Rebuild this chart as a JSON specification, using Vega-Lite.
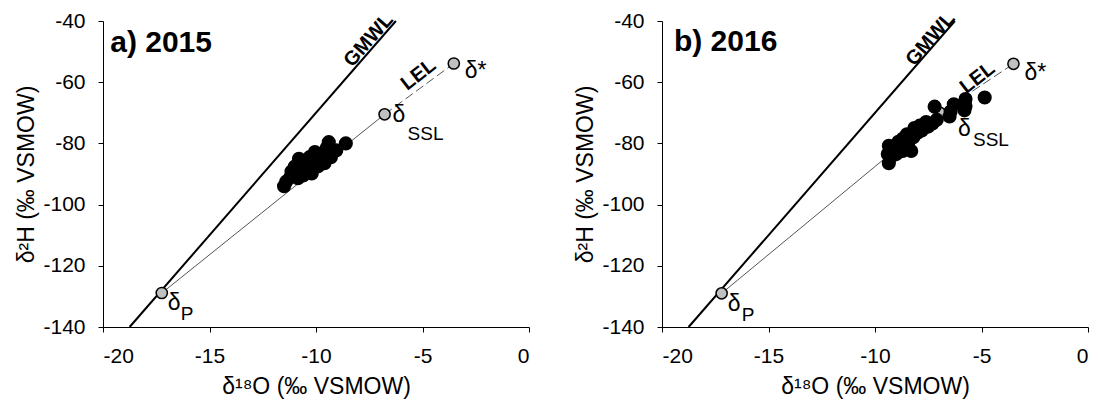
{
  "$schema": "https://vega.github.io/schema/vega-lite/v6.json",
  "background": "white",
  "padding": {"left": 15, "top": 8, "right": 5, "bottom": 2},
  "spacing": 133,
  "bounds": "flush",
  "config": {
    "font": "Liberation Sans",
    "view": {"stroke": null},
    "axis": {
      "grid": false,
      "domainColor": "black",
      "domainWidth": 1,
      "tickColor": "black",
      "tickWidth": 1,
      "tickSize": 5,
      "labelColor": "black",
      "labelFont": "Liberation Sans",
      "labelFontSize": 21,
      "titleColor": "black",
      "titleFont": "Liberation Sans",
      "titleFontSize": 23,
      "titleFontWeight": "normal"
    },
    "text": {"font": "Liberation Sans", "color": "black"}
  },
  "datasets": {
    "lines": [
      {"panel": "a", "series": "GMWL", "d18O": -18.75, "d2H": -140},
      {"panel": "a", "series": "GMWL", "d18O": -6.25, "d2H": -40},
      {"panel": "a", "series": "LEL", "d18O": -17.24, "d2H": -128.9},
      {"panel": "a", "series": "LEL", "d18O": -6.78, "d2H": -70.5},
      {"panel": "a", "series": "LELext", "d18O": -6.78, "d2H": -70.5},
      {"panel": "a", "series": "LELext", "d18O": -3.53, "d2H": -53.9},
      {"panel": "b", "series": "GMWL", "d18O": -18.75, "d2H": -140},
      {"panel": "b", "series": "GMWL", "d18O": -6.25, "d2H": -40},
      {"panel": "b", "series": "LEL", "d18O": -17.2, "d2H": -129},
      {"panel": "b", "series": "LEL", "d18O": -6.95, "d2H": -70},
      {"panel": "b", "series": "LELext", "d18O": -6.95, "d2H": -70},
      {"panel": "b", "series": "LELext", "d18O": -3.5, "d2H": -54}
    ],
    "members": [
      {"panel": "a", "name": "P", "d18O": -17.24, "d2H": -128.9},
      {"panel": "a", "name": "SSL", "d18O": -6.78, "d2H": -70.5},
      {"panel": "a", "name": "star", "d18O": -3.53, "d2H": -53.9},
      {"panel": "b", "name": "P", "d18O": -17.2, "d2H": -129},
      {"panel": "b", "name": "SSL", "d18O": -6.95, "d2H": -70},
      {"panel": "b", "name": "star", "d18O": -3.5, "d2H": -54}
    ],
    "samples": [
      {"panel": "a", "d18O": -8.6, "d2H": -80},
      {"panel": "a", "d18O": -9.4, "d2H": -79.6},
      {"panel": "a", "d18O": -9.05, "d2H": -82.3},
      {"panel": "a", "d18O": -10.8, "d2H": -85},
      {"panel": "a", "d18O": -9.6, "d2H": -86.5},
      {"panel": "a", "d18O": -10.05, "d2H": -82.8},
      {"panel": "a", "d18O": -10.4, "d2H": -86},
      {"panel": "a", "d18O": -11.15, "d2H": -89.2},
      {"panel": "a", "d18O": -10.2, "d2H": -89.8},
      {"panel": "a", "d18O": -11.4, "d2H": -92.5},
      {"panel": "a", "d18O": -11.5, "d2H": -94},
      {"panel": "a", "d18O": -10.85, "d2H": -91.4},
      {"panel": "a", "d18O": -9.8, "d2H": -84},
      {"panel": "a", "d18O": -10.7, "d2H": -89.2},
      {"panel": "a", "d18O": -11.0, "d2H": -87.6},
      {"panel": "a", "d18O": -9.3, "d2H": -84.5},
      {"panel": "a", "d18O": -10.5, "d2H": -87.5},
      {"panel": "a", "d18O": -10.0, "d2H": -85.5},
      {"panel": "a", "d18O": -9.5, "d2H": -81.5},
      {"panel": "a", "d18O": -11.2, "d2H": -91},
      {"panel": "a", "d18O": -10.6, "d2H": -90.5},
      {"panel": "a", "d18O": -10.3, "d2H": -84.5},
      {"panel": "a", "d18O": -9.9, "d2H": -87.5},
      {"panel": "b", "d18O": -4.85, "d2H": -65},
      {"panel": "b", "d18O": -5.75, "d2H": -65.5},
      {"panel": "b", "d18O": -5.75, "d2H": -67.8},
      {"panel": "b", "d18O": -5.8, "d2H": -69.2},
      {"panel": "b", "d18O": -6.3, "d2H": -67.2},
      {"panel": "b", "d18O": -6.45, "d2H": -69.6},
      {"panel": "b", "d18O": -6.5, "d2H": -71.2},
      {"panel": "b", "d18O": -7.2, "d2H": -68},
      {"panel": "b", "d18O": -7.1, "d2H": -72.3},
      {"panel": "b", "d18O": -7.5, "d2H": -74.5},
      {"panel": "b", "d18O": -7.9, "d2H": -74.2},
      {"panel": "b", "d18O": -8.15, "d2H": -75},
      {"panel": "b", "d18O": -8.2, "d2H": -78},
      {"panel": "b", "d18O": -8.5, "d2H": -77},
      {"panel": "b", "d18O": -8.45, "d2H": -80.5},
      {"panel": "b", "d18O": -8.9, "d2H": -79.5},
      {"panel": "b", "d18O": -9.05, "d2H": -81.5},
      {"panel": "b", "d18O": -9.35, "d2H": -80.8},
      {"panel": "b", "d18O": -9.4, "d2H": -83.5},
      {"panel": "b", "d18O": -8.7, "d2H": -82.5},
      {"panel": "b", "d18O": -8.3, "d2H": -82.5},
      {"panel": "b", "d18O": -9.35, "d2H": -86.5},
      {"panel": "b", "d18O": -9.2, "d2H": -84},
      {"panel": "b", "d18O": -8.0, "d2H": -76.5},
      {"panel": "b", "d18O": -7.6, "d2H": -73},
      {"panel": "b", "d18O": -8.7, "d2H": -78.5},
      {"panel": "b", "d18O": -9.0, "d2H": -83.5},
      {"panel": "b", "d18O": -8.6, "d2H": -80},
      {"panel": "b", "d18O": -7.8, "d2H": -75.8},
      {"panel": "b", "d18O": -7.3, "d2H": -73.5},
      {"panel": "b", "d18O": -8.4, "d2H": -79},
      {"panel": "b", "d18O": -9.2, "d2H": -82}
    ]
  },
  "hconcat": [
    {
      "width": 426,
      "height": 306,
      "layer": [
        {
          "data": {"name": "lines"},
          "transform": [{"filter": "datum.panel == 'a' && datum.series == 'GMWL'"}],
          "mark": {"type": "line", "color": "black", "strokeWidth": 2},
          "encoding": {
            "x": {"field": "d18O", "type": "quantitative", "scale": {"domain": [-20, 0], "nice": false},
                  "axis": {"values": [-20, -15, -10, -5, 0], "labelExpr": "toString(datum.value)", "labelPadding": 13, "titlePadding": 9, "title": "δ¹⁸O (‰ VSMOW)"}},
            "y": {"field": "d2H", "type": "quantitative", "scale": {"domain": [-140, -40], "nice": false},
                  "axis": {"values": [-140, -120, -100, -80, -60, -40], "labelExpr": "toString(datum.value)", "labelPadding": 13, "titlePadding": 4, "title": "δ²H (‰ VSMOW)"}}
          }
        },
        {
          "data": {"name": "lines"},
          "transform": [{"filter": "datum.panel == 'a' && datum.series == 'LEL'"}],
          "mark": {"type": "line", "color": "#555555", "strokeWidth": 1},
          "encoding": {"x": {"field": "d18O", "type": "quantitative"}, "y": {"field": "d2H", "type": "quantitative"}}
        },
        {
          "data": {"name": "lines"},
          "transform": [{"filter": "datum.panel == 'a' && datum.series == 'LELext'"}],
          "mark": {"type": "line", "color": "#555555", "strokeWidth": 1, "strokeDash": [9, 4]},
          "encoding": {"x": {"field": "d18O", "type": "quantitative"}, "y": {"field": "d2H", "type": "quantitative"}}
        },
        {
          "data": {"name": "members"},
          "transform": [{"filter": "datum.panel == 'a'"}],
          "mark": {"type": "point", "shape": "circle", "filled": true, "fill": "#c0c0c0", "stroke": "black", "strokeWidth": 1.5, "size": 125, "opacity": 1},
          "encoding": {"x": {"field": "d18O", "type": "quantitative"}, "y": {"field": "d2H", "type": "quantitative"}}
        },
        {
          "data": {"name": "samples"},
          "transform": [{"filter": "datum.panel == 'a'"}],
          "mark": {"type": "point", "shape": "circle", "filled": true, "color": "black", "size": 200, "opacity": 1},
          "encoding": {"x": {"field": "d18O", "type": "quantitative"}, "y": {"field": "d2H", "type": "quantitative"}}
        },
        {
          "data": {"name": "members"},
          "transform": [{"filter": "datum.panel == 'a' && datum.name == 'P'"}],
          "mark": {"type": "text", "text": "δ", "fontSize": 23, "align": "left", "baseline": "alphabetic", "dx": 6, "dy": 17},
          "encoding": {"x": {"field": "d18O", "type": "quantitative"}, "y": {"field": "d2H", "type": "quantitative"}}
        },
        {
          "data": {"name": "members"},
          "transform": [{"filter": "datum.panel == 'a' && datum.name == 'P'"}],
          "mark": {"type": "text", "fontSize": 19, "align": "left", "baseline": "alphabetic", "dx": 19, "dy": 27},
          "encoding": {"x": {"field": "d18O", "type": "quantitative"}, "y": {"field": "d2H", "type": "quantitative"}, "text": {"field": "name"}}
        },
        {
          "data": {"name": "members"},
          "transform": [{"filter": "datum.panel == 'a' && datum.name == 'SSL'"}],
          "mark": {"type": "text", "text": "δ", "fontSize": 23, "align": "left", "baseline": "alphabetic", "dx": 8, "dy": 8},
          "encoding": {"x": {"field": "d18O", "type": "quantitative"}, "y": {"field": "d2H", "type": "quantitative"}}
        },
        {
          "data": {"name": "members"},
          "transform": [{"filter": "datum.panel == 'a' && datum.name == 'SSL'"}],
          "mark": {"type": "text", "fontSize": 19, "align": "left", "baseline": "alphabetic", "dx": 23, "dy": 26},
          "encoding": {"x": {"field": "d18O", "type": "quantitative"}, "y": {"field": "d2H", "type": "quantitative"}, "text": {"field": "name"}}
        },
        {
          "data": {"name": "members"},
          "transform": [{"filter": "datum.panel == 'a' && datum.name == 'star'"}],
          "mark": {"type": "text", "text": "δ*", "fontSize": 23, "align": "left", "baseline": "alphabetic", "dx": 11, "dy": 14},
          "encoding": {"x": {"field": "d18O", "type": "quantitative"}, "y": {"field": "d2H", "type": "quantitative"}}
        },
        {
          "data": {"values": [{"label": "GMWL"}]},
          "mark": {"type": "text", "fontSize": 20, "fontWeight": "bold", "align": "center", "baseline": "middle", "angle": 311},
          "encoding": {"x": {"datum": -7.53}, "y": {"datum": -46.3}, "text": {"field": "label"}}
        },
        {
          "data": {"values": [{"label": "LEL"}]},
          "mark": {"type": "text", "fontSize": 20, "fontWeight": "bold", "align": "center", "baseline": "middle", "angle": 322},
          "encoding": {"x": {"datum": -5.19}, "y": {"datum": -57.5}, "text": {"field": "label"}}
        },
        {
          "data": {"values": [{"label": "a) 2015"}]},
          "mark": {"type": "text", "fontSize": 30, "fontWeight": "bold", "align": "left", "baseline": "alphabetic"},
          "encoding": {"x": {"datum": -19.66}, "y": {"datum": -50}, "text": {"field": "label"}}
        }
      ]
    },
    {
      "width": 426,
      "height": 306,
      "layer": [
        {
          "data": {"name": "lines"},
          "transform": [{"filter": "datum.panel == 'b' && datum.series == 'GMWL'"}],
          "mark": {"type": "line", "color": "black", "strokeWidth": 2},
          "encoding": {
            "x": {"field": "d18O", "type": "quantitative", "scale": {"domain": [-20, 0], "nice": false},
                  "axis": {"values": [-20, -15, -10, -5, 0], "labelExpr": "toString(datum.value)", "labelPadding": 13, "titlePadding": 9, "title": "δ¹⁸O (‰ VSMOW)"}},
            "y": {"field": "d2H", "type": "quantitative", "scale": {"domain": [-140, -40], "nice": false},
                  "axis": {"values": [-140, -120, -100, -80, -60, -40], "labelExpr": "toString(datum.value)", "labelPadding": 13, "titlePadding": 4, "title": "δ²H (‰ VSMOW)"}}
          }
        },
        {
          "data": {"name": "lines"},
          "transform": [{"filter": "datum.panel == 'b' && datum.series == 'LEL'"}],
          "mark": {"type": "line", "color": "#555555", "strokeWidth": 1},
          "encoding": {"x": {"field": "d18O", "type": "quantitative"}, "y": {"field": "d2H", "type": "quantitative"}}
        },
        {
          "data": {"name": "lines"},
          "transform": [{"filter": "datum.panel == 'b' && datum.series == 'LELext'"}],
          "mark": {"type": "line", "color": "#555555", "strokeWidth": 1, "strokeDash": [9, 4]},
          "encoding": {"x": {"field": "d18O", "type": "quantitative"}, "y": {"field": "d2H", "type": "quantitative"}}
        },
        {
          "data": {"name": "members"},
          "transform": [{"filter": "datum.panel == 'b'"}],
          "mark": {"type": "point", "shape": "circle", "filled": true, "fill": "#c0c0c0", "stroke": "black", "strokeWidth": 1.5, "size": 125, "opacity": 1},
          "encoding": {"x": {"field": "d18O", "type": "quantitative"}, "y": {"field": "d2H", "type": "quantitative"}}
        },
        {
          "data": {"name": "samples"},
          "transform": [{"filter": "datum.panel == 'b'"}],
          "mark": {"type": "point", "shape": "circle", "filled": true, "color": "black", "size": 200, "opacity": 1},
          "encoding": {"x": {"field": "d18O", "type": "quantitative"}, "y": {"field": "d2H", "type": "quantitative"}}
        },
        {
          "data": {"name": "members"},
          "transform": [{"filter": "datum.panel == 'b' && datum.name == 'P'"}],
          "mark": {"type": "text", "text": "δ", "fontSize": 23, "align": "left", "baseline": "alphabetic", "dx": 6, "dy": 18},
          "encoding": {"x": {"field": "d18O", "type": "quantitative"}, "y": {"field": "d2H", "type": "quantitative"}}
        },
        {
          "data": {"name": "members"},
          "transform": [{"filter": "datum.panel == 'b' && datum.name == 'P'"}],
          "mark": {"type": "text", "fontSize": 19, "align": "left", "baseline": "alphabetic", "dx": 20, "dy": 28},
          "encoding": {"x": {"field": "d18O", "type": "quantitative"}, "y": {"field": "d2H", "type": "quantitative"}, "text": {"field": "name"}}
        },
        {
          "data": {"name": "members"},
          "transform": [{"filter": "datum.panel == 'b' && datum.name == 'SSL'"}],
          "mark": {"type": "text", "text": "δ", "fontSize": 23, "align": "left", "baseline": "alphabetic", "dx": 18, "dy": 23},
          "encoding": {"x": {"field": "d18O", "type": "quantitative"}, "y": {"field": "d2H", "type": "quantitative"}}
        },
        {
          "data": {"name": "members"},
          "transform": [{"filter": "datum.panel == 'b' && datum.name == 'SSL'"}],
          "mark": {"type": "text", "fontSize": 19, "align": "left", "baseline": "alphabetic", "dx": 33, "dy": 33},
          "encoding": {"x": {"field": "d18O", "type": "quantitative"}, "y": {"field": "d2H", "type": "quantitative"}, "text": {"field": "name"}}
        },
        {
          "data": {"name": "members"},
          "transform": [{"filter": "datum.panel == 'b' && datum.name == 'star'"}],
          "mark": {"type": "text", "text": "δ*", "fontSize": 23, "align": "left", "baseline": "alphabetic", "dx": 11, "dy": 16},
          "encoding": {"x": {"field": "d18O", "type": "quantitative"}, "y": {"field": "d2H", "type": "quantitative"}}
        },
        {
          "data": {"values": [{"label": "GMWL"}]},
          "mark": {"type": "text", "fontSize": 20, "fontWeight": "bold", "align": "center", "baseline": "middle", "angle": 311},
          "encoding": {"x": {"datum": -7.4}, "y": {"datum": -45.9}, "text": {"field": "label"}}
        },
        {
          "data": {"values": [{"label": "LEL"}]},
          "mark": {"type": "text", "fontSize": 20, "fontWeight": "bold", "align": "center", "baseline": "middle", "angle": 322},
          "encoding": {"x": {"datum": -5.19}, "y": {"datum": -58.6}, "text": {"field": "label"}}
        },
        {
          "data": {"values": [{"label": "b) 2016"}]},
          "mark": {"type": "text", "fontSize": 30, "fontWeight": "bold", "align": "left", "baseline": "alphabetic"},
          "encoding": {"x": {"datum": -19.44}, "y": {"datum": -49.7}, "text": {"field": "label"}}
        }
      ]
    }
  ]
}
